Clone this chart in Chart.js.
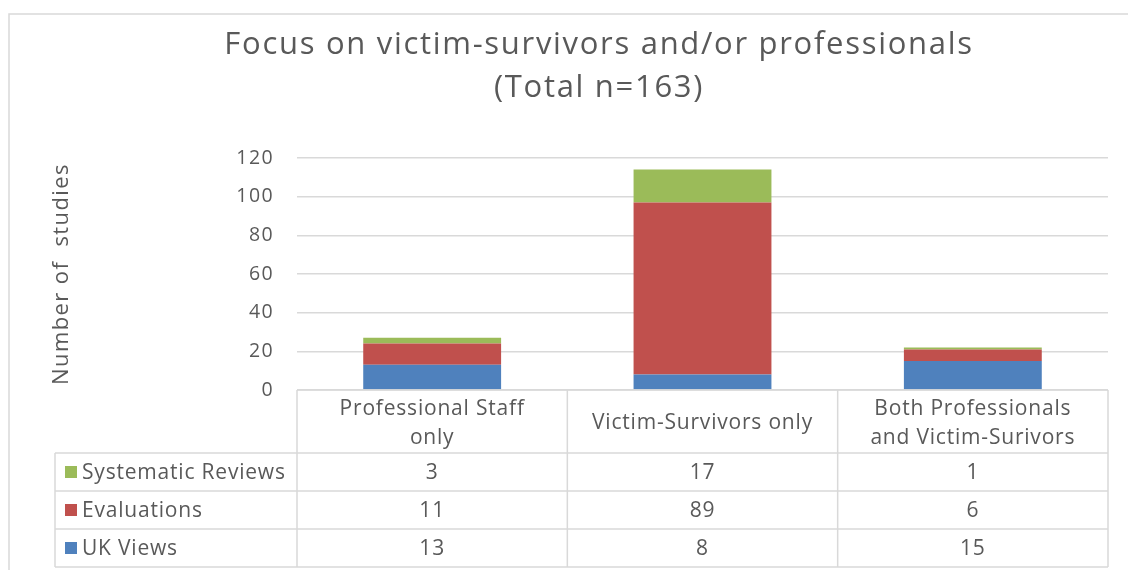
<!DOCTYPE html>
<html>
<head>
<meta charset="utf-8">
<script src="https://cdn.jsdelivr.net/npm/chart.js@4.4.0/dist/chart.umd.min.js"></script>
<style>
  html, body { margin: 0; padding: 0; background: #fff; overflow: hidden; }
  #wrap { position: relative; width: 1128px; height: 570px; }
</style>
</head>
<body>
<div id="wrap"><canvas id="focusChart"></canvas></div>
<script>
const categories = [["Professional Staff", "only"], "Victim-Survivors only", ["Both Professionals", "and Victim-Surivors"]];
const ukViews = [13, 8, 15];
const evaluations = [11, 89, 6];
const systematicReviews = [3, 17, 1];
const yTicks = [0, 20, 40, 60, 80, 100, 120];
const titleLines = ["Focus on victim-survivors and/or professionals", "(Total n=163)"];

const textColor = "#595959";
const lineColor = "#d9d9d9";
const fontName = "'Open Sans', sans-serif";

// frame + title before, data table under the plot after
const tablePlugin = {
  id: "dataTable",
  beforeDraw(chart) {
    const ctx = chart.ctx;
    ctx.save();
    ctx.strokeStyle = lineColor;
    ctx.lineWidth = 1.5;
    ctx.strokeRect(9, 14, 1300, 700);

    ctx.fillStyle = textColor;
    ctx.font = "31px " + fontName;
    ctx.letterSpacing = "1.7px";
    ctx.textAlign = "center";
    ctx.textBaseline = "middle";
    // the original frame runs past the right edge, so the title sits right of centre
    const cx = 599;
    titleLines.forEach((t, k) => ctx.fillText(t, cx, 45.5 + k * 43));
    ctx.restore();
    // wider spacing for the axis texts, closer to the original font
    ctx.letterSpacing = "1.4px";
  },
  afterDraw(chart) {
    const ctx = chart.ctx;
    const xs = chart.scales.x;
    const area = chart.chartArea;
    const n = categories.length;
    const colW = (xs.right - xs.left) / n;
    const headTop = area.bottom;
    const headBottom = headTop + 63;
    const rowH = 38;
    const tableLeft = 55;
    const rows = chart.data.datasets.slice().reverse();
    const tableBottom = headBottom + rows.length * rowH;

    function line(x1, y1, x2, y2) {
      ctx.beginPath();
      ctx.moveTo(x1, y1);
      ctx.lineTo(x2, y2);
      ctx.stroke();
    }

    ctx.save();
    ctx.strokeStyle = lineColor;
    ctx.lineWidth = 1.5;
    line(xs.left, headTop, xs.right, headTop);
    for (let r = 0; r <= rows.length; r++) {
      const y = headBottom + r * rowH;
      line(tableLeft, y, xs.right, y);
    }
    for (let i = 0; i <= n; i++) {
      const x = xs.left + i * colW;
      line(x, headTop, x, tableBottom);
    }
    line(tableLeft, headBottom, tableLeft, tableBottom);

    ctx.fillStyle = textColor;
    ctx.font = "21px " + fontName;
    ctx.letterSpacing = "0.8px";
    ctx.textBaseline = "middle";
    ctx.textAlign = "center";

    // header cells
    categories.forEach((cat, i) => {
      const x = xs.getPixelForValue(i);
      const lines = Array.isArray(cat) ? cat : [cat];
      const lh = 29;
      const mid = (headTop + headBottom) / 2 + 2;
      lines.forEach((t, k) => {
        ctx.fillText(t, x, mid + (k - (lines.length - 1) / 2) * lh);
      });
    });

    // series rows
    rows.forEach((ds, r) => {
      const yMid = headBottom + r * rowH + rowH / 2;
      ctx.fillStyle = ds.backgroundColor;
      ctx.fillRect(65, yMid - 6, 12, 12);
      ctx.fillStyle = textColor;
      ctx.textAlign = "left";
      ctx.fillText(ds.label, 82, yMid + 1);
      ctx.textAlign = "center";
      ds.data.forEach((v, i) => {
        ctx.fillText(String(v), xs.getPixelForValue(i), yMid + 1);
      });
    });
    ctx.restore();
    ctx.letterSpacing = "0px";
  }
};

new Chart(document.getElementById("focusChart"), {
  type: "bar",
  data: {
    labels: categories,
    datasets: [
      { label: "UK Views", data: ukViews, backgroundColor: "#4f81bd" },
      { label: "Evaluations", data: evaluations, backgroundColor: "#c0504d" },
      { label: "Systematic Reviews", data: systematicReviews, backgroundColor: "#9bbb59" }
    ]
  },
  options: {
    responsive: true,
    maintainAspectRatio: false,
    animation: false,
    layout: { padding: { top: 158, left: 0, right: 20, bottom: 180 } },
    datasets: {
      bar: { categoryPercentage: 1, barPercentage: 0.51, borderWidth: 0 }
    },
    plugins: {
      legend: { display: false },
      tooltip: { enabled: false },
      title: { display: false }
    },
    scales: {
      x: {
        stacked: true,
        display: false
      },
      y: {
        stacked: true,
        min: yTicks[0],
        max: yTicks[yTicks.length - 1],
        afterBuildTicks(s) { s.ticks = yTicks.map(v => ({ value: v })); },
        afterFit(s) { s.width = 297; },
        border: { display: false },
        grid: { color: lineColor, lineWidth: 1.5, drawTicks: false },
        ticks: {
          color: textColor,
          padding: 23,
          font: { family: fontName, size: 19.5 }
        },
        title: {
          display: true,
          text: "Number of  studies",
          color: textColor,
          font: { family: fontName, size: 22, lineHeight: 1.2 },
          padding: { top: 49, bottom: 0 }
        }
      }
    }
  },
  plugins: [tablePlugin]
});
</script>
</body>
</html>
